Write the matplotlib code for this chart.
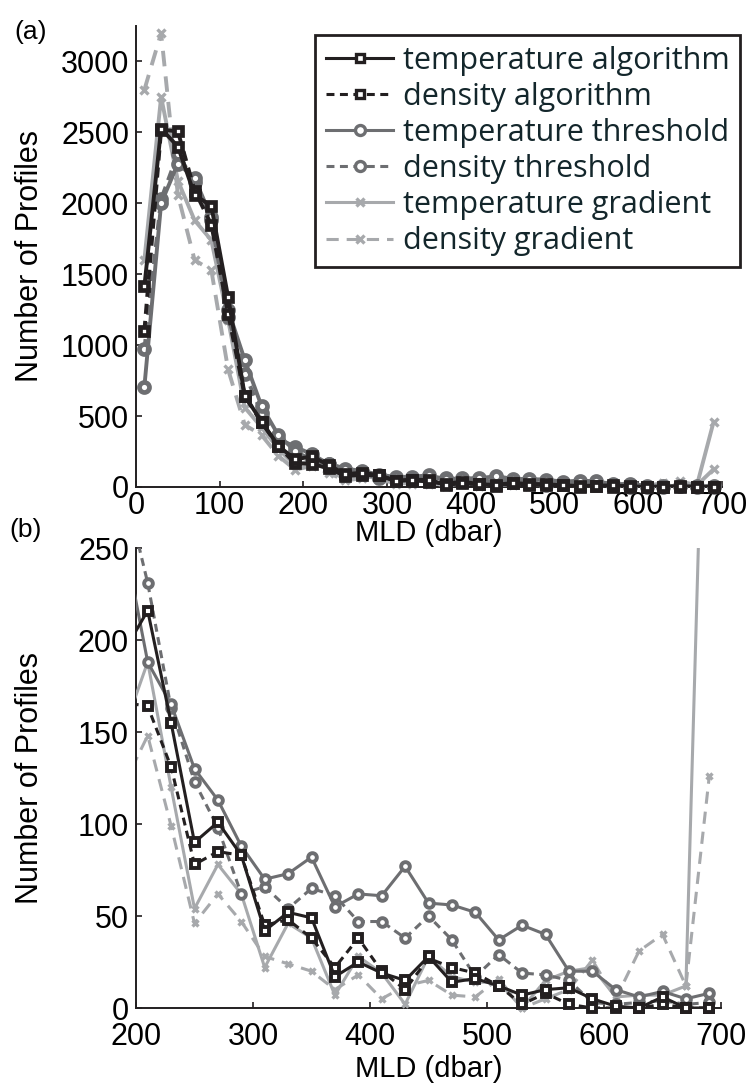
"""Histogram of mixed-layer depth estimates, two views: full range and tail (200-700 dbar)."""
import matplotlib
matplotlib.use("Agg")
import matplotlib.pyplot as plt
from matplotlib.lines import Line2D

# bin centres (dbar)
mld = [10, 30, 50, 70, 90, 110, 130, 150, 170, 190, 210, 230, 250, 270, 290,
       310, 330, 350, 370, 390, 410, 430, 450, 470, 490, 510, 530, 550, 570,
       590, 610, 630, 650, 670, 690]

temp_alg = [1415, 2526, 2400, 2060, 1980, 1340, 643, 460, 291, 194, 216, 155, 90, 101, 83,
            42, 52, 49, 17, 25, 19, 15, 28, 14, 16, 12, 7, 10, 11,
            5, 1, 0, 6, 0, 0]
dens_alg = [1100, 2520, 2507, 2090, 1850, 1223, 640, 455, 290, 166, 164, 131, 78, 85, 83,
            45, 48, 38, 22, 38, 20, 10, 27, 22, 19, 12, 2, 8, 2,
            0, 0, 0, 2, 0, 0]
temp_thr = [706, 2000, 2280, 2178, 1900, 1250, 894, 570, 366, 254, 188, 165, 130, 113, 88,
            70, 73, 82, 55, 62, 61, 77, 57, 56, 52, 37, 45, 40, 20,
            20, 10, 6, 9, 5, 8]
dens_thr = [972, 2030, 2350, 2150, 1880, 1200, 800, 520, 340, 284, 231, 163, 123, 98, 62,
            66, 54, 65, 61, 47, 47, 38, 50, 37, 17, 29, 19, 18, 15,
            3, 2, 3, 4, 2, 3]
temp_grad = [1600, 2750, 2160, 1880, 1740, 1180, 560, 420, 270, 152, 188, 120, 54, 78, 62,
             22, 46, 38, 7, 28, 19, 2, 28, 17, 14, 14, 0, 15, 20,
             22, 6, 7, 7, 12, 460]
dens_grad = [2800, 3200, 2060, 1600, 1528, 829, 437, 366, 220, 122, 148, 99, 46, 62, 47,
             28, 24, 20, 10, 18, 5, 12, 15, 7, 6, 16, 0, 5, 10,
             26, 5, 31, 40, 12, 126]

BLACK = "#231f20"
MID = "#6d6e71"
LIGHT = "#a7a9ac"
TXT = "#13262b"
DASH = (0, (2.6, 1.8))
LDASH = (0, (4, 2.6))

# label, values, colour, linestyle, marker
series = [
    ("temperature algorithm", temp_alg, BLACK, "-", "s"),
    ("density algorithm", dens_alg, BLACK, DASH, "s"),
    ("temperature threshold", temp_thr, MID, "-", "o"),
    ("density threshold", dens_thr, MID, DASH, "o"),
    ("temperature gradient", temp_grad, LIGHT, "-", "x"),
    ("density gradient", dens_grad, LIGHT, LDASH, "x"),
]

plt.rcParams["font.family"] = ["Liberation Sans", "DejaVu Sans"]

# marker size tweaks per marker (circles drawn a bit larger, as MATLAB does)
MSCALE = {"s": 1.0, "o": 1.2, "x": 0.9}


def draw(ax, xlim, ylim, lw, ms, mew, pad):
    for k, (lab, vals, col, ls, mk) in enumerate(reversed(series)):
        z = 2 + k
        ax.plot(mld, vals, color=col, ls=ls, lw=lw, zorder=z)
        pts = [(x, y) for x, y in zip(mld, vals)
               if xlim[0] <= x <= xlim[1] and ylim[0] <= y <= ylim[1]]
        xs = [p[0] for p in pts]
        ys = [p[1] for p in pts]
        ax.plot(xs, ys, ls="none", marker=mk, ms=ms * MSCALE[mk],
                mfc="white" if mk != "x" else col, mec=col,
                mew=mew if mk != "x" else 2.4, zorder=z + 0.5, clip_on=False)
    ax.set_xlim(*xlim)
    ax.set_ylim(*ylim)
    for s in ("top", "right"):
        ax.spines[s].set_visible(False)
    for s in ("left", "bottom"):
        ax.spines[s].set_color(BLACK)
        ax.spines[s].set_linewidth(1.4)
    ax.tick_params(direction="in", length=4, width=1.2, color=BLACK,
                   labelsize=22, pad=5)
    ax.tick_params(axis="x", pad=pad)


fig = plt.figure(figsize=(7.53, 10.86), dpi=100)
W, H = 753, 1086

ax1 = fig.add_axes([136 / W, 1 - 487 / H, 586 / W, 461 / H])
draw(ax1, (0, 700), (0, 3250), 2.8, 6, 3.4, 3)
ax1.set_xticks([0, 100, 200, 300, 400, 500, 600, 700])
ax1.set_yticks([0, 500, 1000, 1500, 2000, 2500, 3000])

ax2 = fig.add_axes([136 / W, 1 - 1008 / H, 585 / W, 460 / H])
draw(ax2, (200, 700), (0, 250), 2.2, 5.2, 2.8, 10)
ax2.set_xticks([200, 300, 400, 500, 600, 700])
ax2.set_yticks([0, 50, 100, 150, 200, 250])

handles = [Line2D([], [], color=c, ls=ls, lw=2.2, marker=mk, ms=6 * MSCALE[mk],
                  mfc="white" if mk != "x" else c, mec=c, mew=2.4)
           for (lab, v, c, ls, mk) in series]
leg = fig.legend(handles, [s[0] for s in series], loc="upper right",
                 bbox_to_anchor=(740 / W, 1 - 35 / H), borderaxespad=0,
                 fancybox=False, framealpha=1, edgecolor=BLACK,
                 prop={"family": "Open Sans", "size": 22},
                 handlelength=2.2, handletextpad=0.3, labelspacing=0.2,
                 borderpad=0.35)
leg.get_frame().set_linewidth(2)
for t in leg.get_texts():
    t.set_color(TXT)

for yc in (256, 778):
    fig.text(30 / W, 1 - yc / H, "Number of Profiles", rotation=90,
             ha="center", va="center", fontsize=22)
fig.text(429 / W, 1 - 533 / H, "MLD (dbar)", ha="center", va="center", fontsize=21)
fig.text(429 / W, 1 - 1069 / H, "MLD (dbar)", ha="center", va="center", fontsize=21)
fig.text(14 / W, 1 - 32 / H, "(a)", ha="left", va="center", fontsize=19)
fig.text(9 / W, 1 - 530 / H, "(b)", ha="left", va="center", fontsize=19)

fig.savefig("out.png", dpi=100, facecolor="white")
